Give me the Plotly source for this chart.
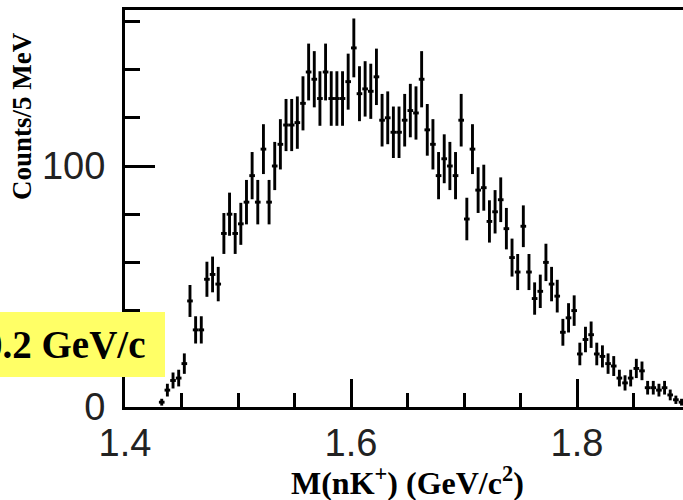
import numpy as np
import plotly.graph_objects as go

# Bin centres (GeV/c^2), 5 MeV bins
mass = [1.4325, 1.4375, 1.4425, 1.4475, 1.4525, 1.4575, 1.4625, 1.4675, 1.4725, 1.4775,
        1.4825, 1.4875, 1.4925, 1.4975, 1.5025, 1.5075, 1.5125, 1.5175, 1.5225, 1.5275,
        1.5325, 1.5375, 1.5425, 1.5475, 1.5525, 1.5575, 1.5625, 1.5675, 1.5725, 1.5775,
        1.5825, 1.5875, 1.5925, 1.5975, 1.6025, 1.6075, 1.6125, 1.6175, 1.6225, 1.6275,
        1.6325, 1.6375, 1.6425, 1.6475, 1.6525, 1.6575, 1.6625, 1.6675, 1.6725, 1.6775,
        1.6825, 1.6875, 1.6925, 1.6975, 1.7025, 1.7075, 1.7125, 1.7175, 1.7225, 1.7275,
        1.7325, 1.7375, 1.7425, 1.7475, 1.7525, 1.7575, 1.7625, 1.7675, 1.7725, 1.7775,
        1.7825, 1.7875, 1.7925, 1.7975, 1.8025, 1.8075, 1.8125, 1.8175, 1.8225, 1.8275,
        1.8325, 1.8375, 1.8425, 1.8475, 1.8525, 1.8575, 1.8625, 1.8675, 1.8725, 1.8775,
        1.8825, 1.8875, 1.8925]

counts = [2, 7, 11, 12, 18, 44, 32, 32, 53, 55,
          51, 72, 80, 72, 76, 85, 96, 85, 107, 85,
          100, 109, 117, 117, 118, 126, 139, 136, 128, 139,
          128, 128, 128, 135, 149, 130, 132, 131, 137, 119,
          120, 114, 114, 119, 123, 122, 136, 115, 109, 96,
          103, 100, 96, 119, 78, 107, 90, 91, 77, 81,
          86, 74, 62, 56, 75, 56, 45, 48, 60, 51,
          46, 31, 37, 40, 22, 28, 30, 22, 21, 18,
          17, 12, 10, 12, 16, 15, 8, 8, 7, 8,
          5, 3, 2]

half_bin = 0.0025
errors = np.sqrt(np.array(counts, dtype=float))

x_ticks = [1.4, 1.6, 1.8]
y_ticks = [0, 100]

fig = go.Figure()
fig.add_trace(go.Scatter(
    x=mass, y=counts, mode="markers",
    marker=dict(size=1, color="black"),
    error_y=dict(type="data", array=errors, visible=True, color="black", thickness=2.9, width=0),
    error_x=dict(type="constant", value=half_bin, visible=True, color="black", thickness=2.9, width=0),
    hoverinfo="skip", showlegend=False,
))

L, R, T, B = 125, 0, 10, 93
W, H = 683, 500
pw, ph = W - L - R, H - T - B

def px(xp):
    return (xp - L) / pw

def py(yp):
    return (H - B - yp) / ph

tickfont = dict(family="Liberation Sans, Arial, sans-serif", size=38, color="#222")

fig.update_layout(
    width=W, height=H,
    margin=dict(l=L, r=R, t=T, b=B, pad=0),
    paper_bgcolor="white", plot_bgcolor="white",
    xaxis=dict(
        range=[1.4, 1.4 + pw / 1130.0],
        tickmode="array", tickvals=x_ticks, ticktext=[f"{v:.1f}" for v in x_ticks],
        ticks="inside", ticklen=28, tickwidth=2.7, tickcolor="black",
        minor=dict(dtick=0.05, tick0=1.4, ticks="inside", ticklen=14, tickwidth=2.7, tickcolor="black", showgrid=False),
        showline=True, linewidth=3, linecolor="black", mirror=True,
        showgrid=False, zeroline=False, tickfont=tickfont, ticklabelstandoff=0,
    ),
    yaxis=dict(
        range=[0, ph / 2.41],
        tickmode="array", tickvals=y_ticks, ticktext=[str(v) for v in y_ticks],
        ticks="inside", ticklen=30, tickwidth=2.7, tickcolor="black",
        minor=dict(dtick=20, tick0=0, ticks="inside", ticklen=15, tickwidth=2.7, tickcolor="black", showgrid=False),
        showline=True, linewidth=3, linecolor="black",
        showgrid=False, zeroline=False, tickfont=tickfont, ticklabelstandoff=9,
    ),
    shapes=[dict(type="rect", xref="paper", yref="paper",
                 x0=px(0), x1=px(165), y0=py(377), y1=py(312),
                 fillcolor="#FFFF66", line=dict(width=0), layer="above")],
    annotations=[
        dict(text="<b>Counts/5 MeV</b>", xref="paper", yref="paper",
             x=px(22), y=py(116), xanchor="center", yanchor="middle", textangle=-90,
             showarrow=False, font=dict(family="Liberation Serif, Times New Roman, serif", size=27, color="black")),
        dict(text="<b>M(nK<sup>+</sup>) (GeV/c<sup>2</sup>)</b>", xref="paper", yref="paper",
             x=px(407), y=py(481), xanchor="center", yanchor="middle",
             showarrow=False, font=dict(family="Liberation Serif, Times New Roman, serif", size=32, color="black")),
        dict(text="<b>0.2 GeV/c</b>", xref="paper", yref="paper",
             x=px(147), y=py(344), xanchor="right", yanchor="middle",
             showarrow=False, font=dict(family="Liberation Serif, Times New Roman, serif", size=39, color="black")),
    ],
)

fig.write_html("out.html")
